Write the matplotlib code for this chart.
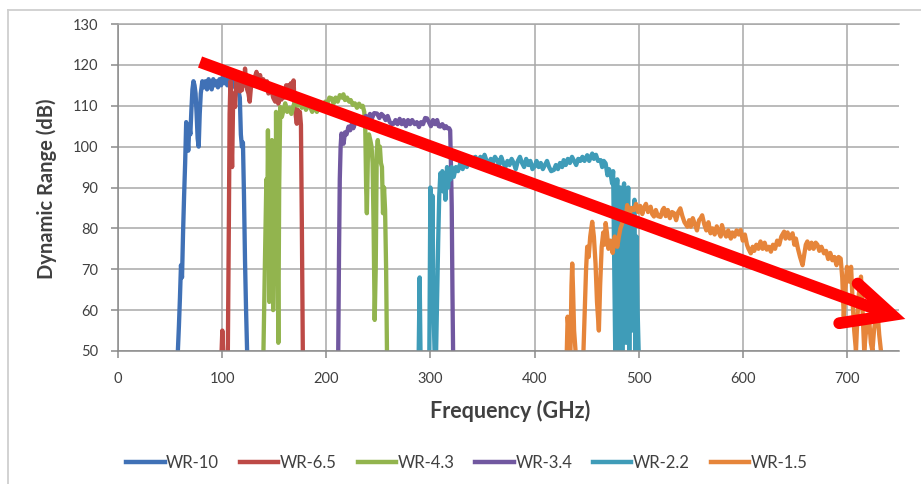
import matplotlib

matplotlib.use("Agg")
import matplotlib.pyplot as plt
import numpy as np
from matplotlib.lines import Line2D

plt.rcParams["font.family"] = ["Lato", "DejaVu Sans"]

GAP = (np.nan, np.nan)

# (frequency GHz, dynamic range dB) per waveguide band
WR10 = [(57.5, 50), (58.5, 56), (59.5, 63), (60.5, 71), (61.5, 68), (62.5, 79), (63.5, 88),
        (64.5, 96), (65.5, 106), (66.5, 103), (67.5, 99), (68.5, 105), (69.5, 103), (70.5, 109),
        (71.5, 114), (72.5, 116), (73.5, 115), (74.5, 113), (75.5, 108), (76.5, 102), (77.5, 100),
        (78.5, 108), (79.5, 113), (81, 116), (82.5, 114.5), (84, 116), (85.5, 114), (87, 116.5),
        (88.5, 115), (90, 114), (91.5, 116.5), (93, 115), (94.5, 116), (96, 114.5), (97.5, 116.5),
        (99, 115), (100.5, 117), (102, 115.5), (103.5, 116.5), (105, 115), (106.5, 117), (108, 116),
        (109.5, 114.5), (111, 116.5), (112.5, 115), (114, 116), (115.5, 114), (117, 112), (118, 103),
        (119, 100), (120, 101), (121, 88), (122, 72), (123, 60), (124, 50)]

WR6_5 = [(99.5, 50), (100.2, 55), (101, 50), GAP, (105.5, 50), (106.5, 82), (107.2, 108), (108, 116),
         (108.8, 104), (109.6, 95), (110.5, 110), (111.5, 113), (112.5, 109.7), (113.5, 116),
         (114.5, 114), (115.7, 117.1), (117, 113.5), (118, 116), (119, 113.8), (120, 117), (121, 115),
         (122, 119.1), (123, 116), (124, 114), (125.3, 113), (126.5, 111), (127.5, 114), (128.5, 116.3),
         (130, 115), (131.5, 117), (133, 118.3), (135, 116), (136.5, 117.5), (138, 115), (139.5, 116.5),
         (141.3, 114.6), (143, 116), (144.5, 113), (146, 115), (147.5, 114), (149, 112), (151, 111),
         (152.5, 112.6), (154, 110.5), (155.5, 113), (157, 111.5), (158.5, 114), (160, 112),
         (161.5, 115), (163, 115), (164.5, 113), (166, 115.5), (167.5, 114), (168.6, 116.2),
         (169.5, 111), (170.5, 108), (171.7, 105.6), (172.7, 109), (173.7, 106), (174.7, 108.5),
         (175.7, 105.3), (176.6, 80), (177.5, 50)]

WR4_3 = [(139.7, 50), (141, 70), (142.5, 92), (143.2, 75), (144, 104), (144.5, 88), (144.8, 96),
         (145.3, 62), (145.6, 82), (146.3, 77), (146.7, 95), (147, 88), (147.4, 70), (147.8, 101.6),
         (148.2, 84), (148.6, 96), (149, 60), (149.4, 72), (149.8, 94), (150.2, 66.5), (150.6, 80),
         (151, 90), (151.4, 70), (151.8, 108.5), (152.2, 90), (152.6, 100), (153, 86), (153.3, 75),
         (154, 52), (154.8, 90), (155.8, 109.7), (157.4, 107.3), (159, 109),
         (160.6, 110.6), (162.5, 108.5), (164.5, 109.5), (166.5, 108), (168.5, 110), (170.5, 111.4),
         (172.5, 110), (174.5, 111), (176.5, 109.5), (178.5, 110.5), (180.5, 109), (182.5, 110),
         (184.6, 109.7), (186.5, 108.5), (188.5, 110), (191, 108.5), (193, 109.5), (195, 110.5),
         (197, 109.5), (199, 111), (201, 110.5), (203, 112), (205.4, 111.8), (207, 110.5), (209, 112),
         (211, 111), (213, 112.6), (215, 112), (216.5, 112.8), (218, 111.4), (220, 112), (222, 111),
         (223.5, 111.4), (225.5, 110.2), (227.5, 110.6), (229.5, 109.5), (231.5, 110.5), (233.5, 109.7),
         (235, 110), (236.5, 108.5), (237.5, 104), (238.3, 90), (239, 83.7), (240, 98), (241, 103),
         (242.3, 101.6), (243.5, 100), (244.5, 96), (245.5, 80), (246.5, 57.6), (247.5, 70), (248.5, 99),
         (249.5, 101.6), (250.5, 98), (251.5, 100), (252.5, 96), (253.5, 95), (254.5, 83.7), (255.5, 90),
         (256.5, 84.5), (257.5, 70), (258.3, 50)]

WR3_4 = [(211.5, 50), (212.3, 75), (213, 92), (213.8, 100), (214.6, 103.2), (215.5, 102), (216.6, 100.7),
         (218, 103.5), (219.5, 103), (221.4, 104.9), (223, 104), (224.5, 105.5), (226, 104.5), (228, 106),
         (230, 106.5), (232, 105.5), (234, 107), (236, 106), (238, 107.5), (240, 106.5), (242, 108),
         (244, 107), (246, 108.2), (248.7, 108.1), (251, 107), (253, 108), (255, 107.5), (257, 106.5),
         (259, 107.5), (261, 106), (263, 105.5), (264.7, 105.6), (266.5, 106.5), (268.5, 105.5),
         (270.5, 106.8), (272.5, 105.5), (274.3, 106.5), (276.5, 105), (278.5, 106.5), (280.5, 105.5),
         (282.5, 106.5), (285, 105.5), (287, 106), (289, 104.8), (291, 106), (293, 105.5), (295, 107),
         (296.8, 106.9), (298.5, 106), (300.5, 105), (302.5, 106.5), (304.5, 105.5), (306.5, 106.5),
         (308, 105), (309.6, 104.9), (311.5, 105.5), (313.5, 104.5), (315, 105), (316.5, 104.5),
         (318, 104.5), (319, 104), (319.8, 95), (320.5, 85.3), (321.2, 64.2), (321.8, 50)]

WR2_2 = [(288.8, 50), (289.7, 68), (290.5, 50), GAP, (299, 50), (300, 90), (301, 72), (302, 88), (303, 60),
         (304, 50), GAP, (305.5, 50), (306.5, 64), (307.5, 77), (308.5, 88), (309.6, 93.5), (310.5, 90),
         (311.5, 94), (312.5, 89), (313.5, 92), (314.4, 87), (315.3, 91), (316, 95), (317, 90), (318, 94),
         (319.3, 92), (320.5, 95), (322.4, 92.6), (324.5, 95), (326.5, 94), (328.8, 96), (331, 94.5),
         (333, 96.5), (335, 95), (337, 97), (338.5, 95.9), (340.5, 97), (343.3, 97.5), (345.5, 96),
         (348, 97.5), (350, 96), (352, 98), (354, 96.5), (356, 95.5), (358, 97), (360, 96), (362, 97.5),
         (364, 96.7), (366, 95.5), (368, 97.5), (370, 96), (372, 95), (374, 96.5), (376, 95.5), (378, 97),
         (380, 96), (382, 94.5), (384, 96.5), (386, 97.5), (388, 96), (390, 95), (392, 97), (394, 95.5),
         (396, 96.5), (398, 94.5), (400, 95.1), (402, 96.5), (404, 95), (406, 96), (408, 94.5),
         (410, 95.5), (412, 96.5), (414, 95), (416, 94), (418.6, 94.3), (420.5, 95.5), (422.5, 94.5),
         (424.5, 96), (426.5, 95), (428, 96.7), (430, 95.5), (432, 97), (434, 96), (436, 97.5),
         (438, 96.5), (440, 95.5), (442, 97), (444, 96.5), (446, 97.5), (448, 96.5), (450.6, 97.9),
         (452.5, 96.5), (454, 97.5), (455.4, 98.3), (457, 97), (459, 98), (461, 96.5), (463.5, 96.7),
         (465, 95), (466.5, 96.5), (468.3, 95.9), (470, 93), (471.5, 94.5), (473, 93.5), (474.5, 91),
         (475.5, 94), (476.5, 72), (477.5, 50), (478.5, 88), (479.5, 92), (480.5, 62), (481.5, 50),
         (482.5, 90), (483.5, 86), (484.3, 50), (485.2, 89), (486, 91), (487, 84), (488, 52), (489, 80),
         (490, 90), (491, 50), (492, 85), (493, 82), (494, 55), (495, 80), (496, 87), (497, 50), (498, 78),
         (499, 60), (500, 50)]

WR1_5 = [(431, 50), (431.8, 58.4), (432.5, 56), (433.5, 50), GAP, (434.5, 50), (435.5, 66), (436.2, 71.4),
         (437, 65), (438, 55), (439.4, 50), GAP, (447, 50), (448.5, 62), (449.5, 70), (450.6, 75.5),
         (452, 73), (453.5, 78), (455.4, 81.6), (457, 78), (458.6, 71.4), (460, 62), (461.8, 55), (463, 66),
         (464.5, 75.5), (466, 79), (467.3, 76), (468.3, 81.3), (469.5, 79), (471, 75), (473, 77), (475, 74),
         (477, 78), (479.5, 75.5), (481, 78), (482.5, 80), (484.3, 81.3), (486, 83.5), (487.5, 82),
         (489, 85.7), (491, 83), (493, 85), (495.5, 84.5), (497.5, 86), (499.5, 84), (501.5, 85.5),
         (503.5, 83.5), (505, 85), (507, 86), (509, 84), (511.5, 85.3), (513, 83.5), (514.7, 82.9),
         (516.5, 84.5), (518.5, 83), (521, 82.8), (523, 84.5), (524.3, 85), (526, 83), (528, 84.5),
         (530, 82.5), (532, 84), (534, 83.7), (536, 82), (538, 84), (540, 84.9), (542, 83), (544, 81.5),
         (546.8, 80.4), (548.5, 82), (550, 80.4), (552, 82.5), (554, 81), (556, 79.5), (558, 82),
         (559.6, 82.5), (561, 83.2), (563, 81), (565, 79.5), (567, 81.5), (569, 78.8), (571, 80),
         (573, 78.5), (575, 80.5), (577, 79), (578.8, 78), (580, 80.8), (582, 79), (584, 78), (586, 79.5),
         (588.5, 77.5), (590, 79), (592, 78), (594, 79.5), (596, 78.5), (598, 79.6), (600, 77),
         (602, 78.5), (604, 76), (605.5, 75), (607.7, 73.9), (609.5, 75.5), (611, 74.5), (613, 76),
         (615, 75), (617, 76.8), (619, 75), (621, 76.5), (623, 74.8), (625, 75.5), (627, 74.3), (629, 76),
         (631, 75), (633, 77), (635, 76), (637, 78), (639.7, 79.2), (641, 77.5), (643, 79), (645, 77.5),
         (647.8, 78.8), (649.5, 76), (651, 77.5), (653, 75), (655, 73), (657.4, 71), (659, 73.5),
         (660.5, 76), (662, 76.8), (664, 75), (666, 76.5), (668, 75), (670, 76.5), (671.7, 76),
         (673.5, 74.5), (675.5, 75.5), (678, 73.9), (680, 74.5), (682, 72.5), (684, 74), (686, 72.2),
         (688, 73), (690, 71), (692, 73), (694, 72.6), (695.5, 68), (697, 58.4), (698.5, 65), (700, 70.6),
         (702, 67), (704, 70.6), (705.5, 62), (707, 55), (708.7, 50), (710, 58), (711.5, 64), (713.5, 68.2),
         (715, 60), (716.6, 50), (718, 54), (719.5, 56), (721.4, 57.6), (723, 52), (724.5, 50), (726, 55),
         (727.5, 58), (729.5, 59.2), (731, 54), (732.7, 50)]

BANDS = ["WR-10", "WR-6.5", "WR-4.3", "WR-3.4", "WR-2.2", "WR-1.5"]
SERIES = [WR10, WR6_5, WR4_3, WR3_4, WR2_2, WR1_5]
COLORS = ["#4071b6", "#bd4a46", "#92b44e", "#7158a0", "#3f9cb8", "#e6853a"]

# trend arrow drawn over the data: shaft start, tip, and the two barb ends
ARROW_START = (78.8, 120.7)
ARROW_TIP = (743.5, 58.8)
ARROW_BARBS = [(692.6, 56.8), (710.3, 66.5)]

GRID = "#a8a8a8"
AXIS = "#8a8a8a"
TEXT = "#404040"

fig = plt.figure(figsize=(9.21, 4.84), dpi=100)
ax = fig.add_axes([0.1281, 0.2748, 0.848, 0.6756])

for name, pts, color in zip(BANDS, SERIES, COLORS):
    arr = np.array(pts, dtype=float)
    ax.plot(arr[:, 0], arr[:, 1], color=color, lw=3.1, label=name, solid_joinstyle="round")

ax.set_xlim(0, 750)
ax.set_ylim(50, 130)
ax.set_xticks(np.arange(0, 701, 100))
ax.set_yticks(np.arange(50, 131, 10))
ax.grid(True, color=GRID, lw=1.1)
ax.set_axisbelow(True)
for side in ["left", "bottom"]:
    ax.spines[side].set_color(AXIS)
    ax.spines[side].set_linewidth(1.1)
ax.spines["top"].set_color(GRID)
ax.spines["top"].set_linewidth(1.1)
ax.spines["right"].set_visible(False)
ax.tick_params(direction="out", length=5, width=1.1, color=AXIS, labelsize=10.5, labelcolor=TEXT)
ax.tick_params(axis="y", pad=9)
ax.tick_params(axis="x", pad=10)

fig.text(510 / 921, 1 - 411 / 484, "Frequency (GHz)", ha="center", va="center",
         fontsize=15.5, fontweight="bold", color=TEXT)
fig.text(47 / 921, 1 - 189 / 484, "Dynamic Range (dB)", ha="center", va="center", rotation=90,
         fontsize=14.5, fontweight="bold", color=TEXT)

# red trend arrow
ax.plot([ARROW_START[0], ARROW_TIP[0]], [ARROW_START[1], ARROW_TIP[1]], color="#ff0000", lw=8.5,
        solid_capstyle="butt", clip_on=False, zorder=5)
ax.plot([ARROW_BARBS[0][0], ARROW_TIP[0], ARROW_BARBS[1][0]],
        [ARROW_BARBS[0][1], ARROW_TIP[1], ARROW_BARBS[1][1]], color="#ff0000", lw=8.5,
        solid_joinstyle="miter", solid_capstyle="round", clip_on=False, zorder=5)

handles = [Line2D([0], [0], color=c, lw=3.2) for c in COLORS]
fig.legend(handles, BANDS, loc="center", bbox_to_anchor=(0.507, 1 - 463 / 484), ncol=6, frameon=False,
           fontsize=12, handlelength=2.3, handletextpad=0.1, columnspacing=1.25, labelcolor=TEXT)

# chart-area border
fig.add_artist(Line2D([8 / 921, 8 / 921], [1 - 10 / 484, 0], transform=fig.transFigure, color="#cfcfcf", lw=1.3))
fig.add_artist(Line2D([8 / 921, 1], [1 - 10 / 484, 1 - 10 / 484], transform=fig.transFigure, color="#cfcfcf", lw=1.3))

fig.savefig("out.png", dpi=100)
